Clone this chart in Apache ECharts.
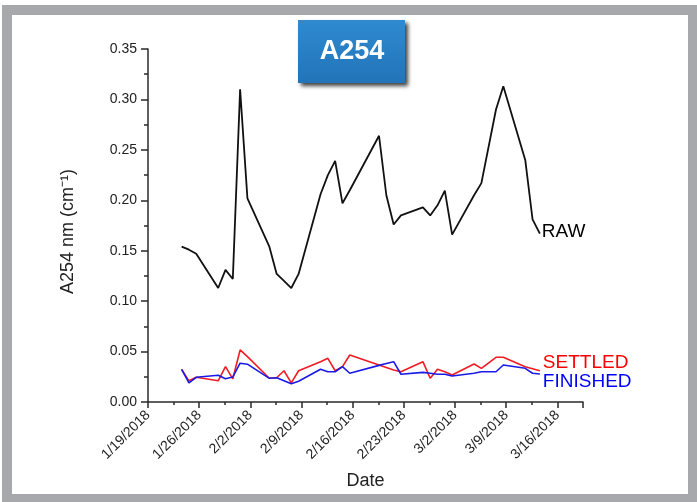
<!DOCTYPE html>
<html><head><meta charset="utf-8">
<script src="https://cdn.jsdelivr.net/npm/echarts@6/dist/echarts.min.js"></script>
<style>html,body{margin:0;padding:0;background:#fff}#c{width:697px;height:502px}</style>
</head><body><div id="c"></div>
<script>
// Sampling dates
const dates = ['2018-01-24','2018-01-25','2018-01-26','2018-01-29','2018-01-30','2018-01-31','2018-02-01','2018-02-02',
  '2018-02-05','2018-02-06','2018-02-07','2018-02-08','2018-02-09','2018-02-12','2018-02-13','2018-02-14','2018-02-15','2018-02-16',
  '2018-02-20','2018-02-21','2018-02-22','2018-02-23','2018-02-26','2018-02-27','2018-02-28','2018-03-01','2018-03-02',
  '2018-03-05','2018-03-06','2018-03-08','2018-03-09','2018-03-12','2018-03-13','2018-03-14'];
const rawValues = [0.154,0.151,0.147,0.113,0.131,0.122,0.310,0.202,
  0.154,0.127,0.120,0.113,0.127,0.206,0.225,0.239,0.197,0.210,
  0.264,0.205,0.176,0.185,0.193,0.185,0.195,0.2095,0.166,
  0.205,0.217,0.290,0.313,0.240,0.181,0.167];
const settledValues = [0.0324,0.021,0.0245,0.021,0.035,0.023,0.0516,0.045,
  0.0235,0.024,0.031,0.019,0.031,0.040,0.0433,0.031,0.035,0.0466,
  0.0367,0.0342,0.0317,0.030,0.040,0.0235,0.0324,0.030,0.0268,
  0.0377,0.0334,0.0443,0.0443,0.035,0.033,0.031];
const finishedValues = [0.0324,0.019,0.0245,0.0265,0.023,0.0248,0.0385,0.0375,
  0.0235,0.024,0.021,0.018,0.0205,0.0324,0.030,0.030,0.035,0.0285,
  0.0363,0.0382,0.040,0.0275,0.0294,0.0285,0.0275,0.0275,0.0258,
  0.0285,0.030,0.030,0.0367,0.0334,0.0285,0.0278];
const tickLabels = ['1/19/2018','1/26/2018','2/2/2018','2/9/2018','2/16/2018','2/23/2018','3/2/2018','3/9/2018','3/16/2018'];
const yTicks = ['0.00','0.05','0.10','0.15','0.20','0.25','0.30','0.35'];
const seriesNames = ['RAW','SETTLED','FINISHED'];
const titleText = 'A254';

const DAY = 86400000;
const AXIS_START = Date.UTC(2018,0,19) + 0.4*DAY;
function toX(s){ const p = s.split('-').map(Number); return (Date.UTC(p[0],p[1]-1,p[2]) - AXIS_START)/DAY; }
const pts = vals => dates.map((d,i)=>[toX(d), vals[i]]);

const chart = echarts.init(document.getElementById('c'), null, {renderer:'canvas'});
const font = '"Liberation Sans", Arial, Helvetica, sans-serif';
const axisColor = '#2a2a2a';
const labelCfg = (color, off) => ({
  show: true, formatter: '{a}', color: color, fontFamily: font, fontSize: 19,
  distance: 2, offset: off
});
chart.setOption({
  animation: false,
  backgroundColor: '#fff',
  graphic: [
    {type:'rect', z:-10, shape:{x:2,y:5,width:695,height:497}, style:{fill:'#a7a8ab'}, silent:true},
    {type:'rect', z:-9, shape:{x:12,y:15,width:676,height:479}, style:{fill:'#ffffff'}, silent:true},
    {type:'rect', z:10, shape:{x:298,y:20,width:107,height:63},
      style:{fill:new echarts.graphic.LinearGradient(0,0,0,1,[{offset:0,color:'#2f8ad0'},{offset:1,color:'#2274b8'}]),
      shadowBlur:4, shadowColor:'rgba(0,0,0,0.75)', shadowOffsetX:3, shadowOffsetY:3}},
    {type:'text', z:11, x:352, y:52, style:{text:titleText, fill:'#fff', font:'bold 27px ' + font, align:'center', verticalAlign:'middle'}}
  ],
  grid: {left:148, right:114, top:49, bottom:100, containLabel:false},
  xAxis: {
    type:'value', min:0, max:59.5, interval:7,
    name:'Date', nameLocation:'middle', nameGap:70,
    nameTextStyle:{fontFamily:font, fontSize:18, color:'#222'},
    axisLine:{show:true, onZero:false, lineStyle:{color:axisColor, width:1.5}},
    axisTick:{show:true, inside:false, length:6, lineStyle:{color:axisColor, width:1.5}},
    minorTick:{show:true, splitNumber:2, length:3, lineStyle:{color:axisColor, width:1.5}},
    splitLine:{show:false},
    axisLabel:{rotate:45, margin:11, fontFamily:font, fontSize:14, color:'#222',
      formatter: v => (Math.abs(v/7 - Math.round(v/7)) < 1e-6 ? (tickLabels[Math.round(v/7)] || '') : '')}
  },
  yAxis: {
    type:'value', min:0, max:0.35, interval:0.05,
    name:'A254 nm (cm\u207B\u00B9)', nameLocation:'middle', nameGap:71, nameRotate:90,
    nameTextStyle:{fontFamily:font, fontSize:18, color:'#222', padding:[0,12,0,0]},
    axisLine:{show:true, onZero:false, lineStyle:{color:axisColor, width:1.5}},
    axisTick:{show:true, inside:false, length:7, lineStyle:{color:axisColor, width:1.5}},
    minorTick:{show:true, splitNumber:2, length:4, lineStyle:{color:axisColor, width:1.5}},
    splitLine:{show:false},
    axisLabel:{margin:11, fontFamily:font, fontSize:14, color:'#222',
      formatter: v => yTicks[Math.round(v/0.05)] || ''}
  },
  series: [
    {name:seriesNames[0], type:'line', data:pts(rawValues), showSymbol:false, symbol:'none',
      lineStyle:{color:'#111', width:1.8}, itemStyle:{color:'#111'},
      endLabel:labelCfg('#000',[0,-2])},
    {name:seriesNames[1], type:'line', data:pts(settledValues), showSymbol:false, symbol:'none',
      lineStyle:{color:'#f01c24', width:1.6}, itemStyle:{color:'#f01c24'},
      endLabel:labelCfg('#ff0000',[1,-8])},
    {name:seriesNames[2], type:'line', data:pts(finishedValues), showSymbol:false, symbol:'none',
      lineStyle:{color:'#1a1ae6', width:1.6}, itemStyle:{color:'#1a1ae6'},
      endLabel:labelCfg('#0000ff',[1,8])}
  ]
});
</script></body></html>
